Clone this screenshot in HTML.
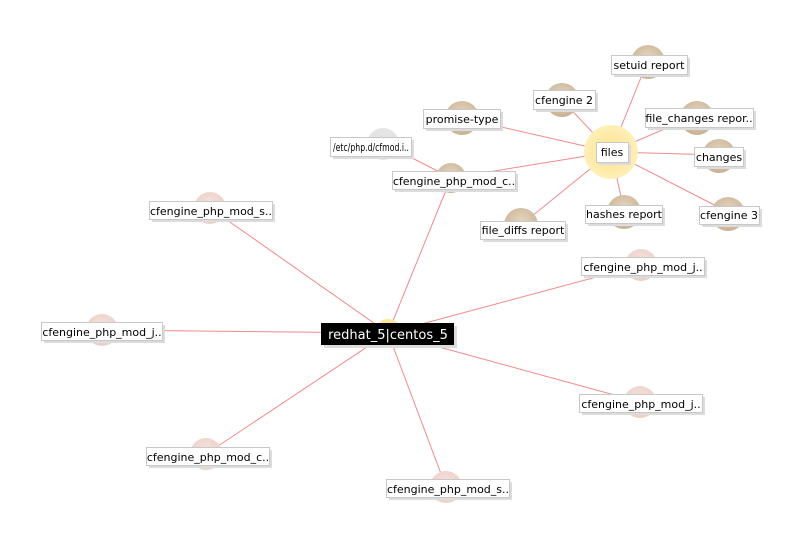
<!DOCTYPE html>
<html><head><meta charset="utf-8"><style>
html,body{margin:0;padding:0;background:#fff;}
svg{display:block;}
text{font-family:"DejaVu Sans","Liberation Sans",sans-serif;font-size:11px;}
</style></head><body>
<svg width="800" height="550" xmlns="http://www.w3.org/2000/svg">
<defs>
<radialGradient id="tan" cx="50%" cy="40%" r="60%"><stop offset="0" stop-color="#e6d6bf"/><stop offset="1" stop-color="#c9b294"/></radialGradient>
<radialGradient id="pink" cx="50%" cy="40%" r="60%"><stop offset="0" stop-color="#f6e2dc"/><stop offset="1" stop-color="#ead0c8"/></radialGradient>
<radialGradient id="yel" cx="50%" cy="50%" r="50%"><stop offset="0" stop-color="#fde08a"/><stop offset="1" stop-color="#fff0b8"/></radialGradient>
</defs>
<g stroke="#f28a8a" stroke-width="1">
<line x1="388" y1="333" x2="451" y2="178"/>
<line x1="388" y1="333" x2="210" y2="208"/>
<line x1="388" y1="333" x2="641" y2="265"/>
<line x1="388" y1="333" x2="102" y2="330"/>
<line x1="388" y1="333" x2="640" y2="402"/>
<line x1="388" y1="333" x2="206" y2="454"/>
<line x1="388" y1="333" x2="446" y2="487"/>
<line x1="611" y1="152" x2="451" y2="178"/>
<line x1="383" y1="143" x2="451" y2="178"/>
<line x1="611" y1="152" x2="648" y2="60"/>
<line x1="611" y1="152" x2="562" y2="100"/>
<line x1="611" y1="152" x2="462" y2="118"/>
<line x1="611" y1="152" x2="697" y2="115"/>
<line x1="611" y1="152" x2="719" y2="155"/>
<line x1="611" y1="152" x2="624" y2="210"/>
<line x1="611" y1="152" x2="728" y2="212"/>
<line x1="611" y1="152" x2="521" y2="225"/>
</g>
<g fill="url(#tan)">
<circle cx="648" cy="62" r="17"/><circle cx="562" cy="100" r="17"/><circle cx="462" cy="118" r="17"/>
<circle cx="451" cy="178" r="15"/><circle cx="697" cy="118" r="17"/><circle cx="719" cy="156" r="17"/>
<circle cx="624" cy="212" r="17"/><circle cx="728" cy="214" r="17"/><circle cx="521" cy="225" r="17"/>
</g>
<circle cx="383" cy="144" r="16" fill="#e4e4e4"/>
<g fill="url(#pink)">
<circle cx="210" cy="208" r="16"/><circle cx="641" cy="265" r="16"/><circle cx="102" cy="330" r="16"/>
<circle cx="640" cy="402" r="16"/><circle cx="206" cy="454" r="16"/><circle cx="446" cy="487" r="16"/>
</g>
<circle cx="611" cy="152" r="27" fill="url(#yel)"/>
<circle cx="388" cy="333" r="14" fill="#fde89a"/>
<g>
<g fill="#dcdcdc">
<rect x="614" y="58" width="76" height="19"/><rect x="536" y="93" width="62" height="19"/>
<rect x="426" y="112" width="77" height="19"/><rect x="333" y="140" width="81" height="19"/>
<rect x="395" y="174" width="123" height="18"/><rect x="648" y="111" width="108" height="19"/>
<rect x="697" y="150" width="49" height="19"/><rect x="588" y="208" width="77" height="18"/>
<rect x="702" y="209" width="60" height="18"/><rect x="483" y="224" width="85" height="18"/>
<rect x="599" y="145" width="32" height="20"/>
<rect x="152" y="204" width="123" height="18"/><rect x="584" y="260" width="123" height="18"/>
<rect x="44" y="325" width="121" height="18"/><rect x="582" y="397" width="123" height="18"/>
<rect x="149" y="450" width="123" height="18"/><rect x="389" y="482" width="123" height="18"/>
<rect x="324" y="326" width="133" height="22"/>
</g>
<g fill="#fff" stroke="#c8c8c8" stroke-width="1">
<rect x="611.5" y="55.5" width="76" height="19"/><rect x="533.5" y="90.5" width="62" height="19"/>
<rect x="423.5" y="109.5" width="77" height="19"/><rect x="330.5" y="137.5" width="81" height="19"/>
<rect x="392.5" y="171.5" width="123" height="18"/><rect x="645.5" y="108.5" width="108" height="19"/>
<rect x="694.5" y="147.5" width="49" height="19"/><rect x="585.5" y="205.5" width="77" height="18"/>
<rect x="699.5" y="206.5" width="60" height="18"/><rect x="480.5" y="221.5" width="85" height="18"/>
<rect x="596.5" y="142.5" width="32" height="20"/>
<rect x="149.5" y="201.5" width="123" height="18"/><rect x="581.5" y="257.5" width="123" height="18"/>
<rect x="41.5" y="322.5" width="121" height="18"/><rect x="579.5" y="394.5" width="123" height="18"/>
<rect x="146.5" y="447.5" width="123" height="18"/><rect x="386.5" y="479.5" width="123" height="18"/>
</g>
<rect x="321" y="323" width="133" height="22" fill="#000"/>
</g>
<g fill="#000" text-anchor="middle">
<text x="649" y="69">setuid report</text>
<text x="564" y="104">cfengine 2</text>
<text x="462" y="123">promise-type</text>
<text x="333" y="151" text-anchor="start" textLength="76" lengthAdjust="spacingAndGlyphs">/etc/php.d/cfmod.i..</text>
<text x="454" y="185">cfengine_php_mod_c..</text>
<text x="699" y="122">file_changes repor..</text>
<text x="719" y="161">changes</text>
<text x="624" y="218">hashes report</text>
<text x="729" y="219">cfengine 3</text>
<text x="523" y="234">file_diffs report</text>
<text x="612" y="156">files</text>
<text x="211" y="215">cfengine_php_mod_s..</text>
<text x="643" y="271">cfengine_php_mod_j..</text>
<text x="102" y="336">cfengine_php_mod_j..</text>
<text x="641" y="408">cfengine_php_mod_j..</text>
<text x="208" y="461">cfengine_php_mod_c..</text>
<text x="448" y="493">cfengine_php_mod_s..</text>
<text x="388" y="339" fill="#fff" style="font-size:13px">redhat_5|centos_5</text>
</g>
</svg>
</body></html>
